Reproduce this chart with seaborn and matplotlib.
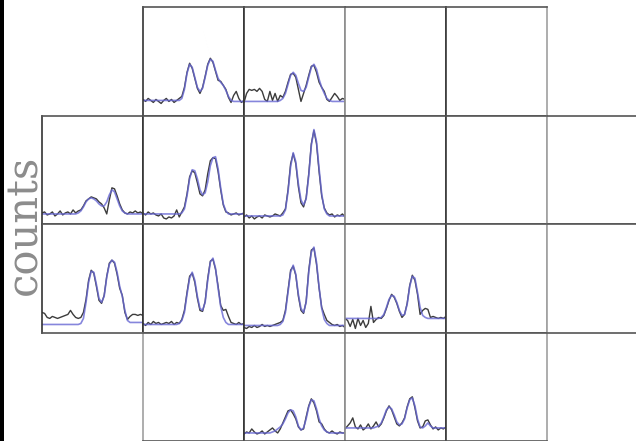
import matplotlib
matplotlib.use("Agg")
import matplotlib.pyplot as plt
from matplotlib.patches import Rectangle
import seaborn as sns

sns.set_style("white")
plt.rcParams['font.family'] = ['DejaVu Serif', 'DejaVu Sans']

# ---------------- data (counts per channel) ----------------
channels = list(range(40))

data_r0c1 = [16,14,17,15,13,16,14,12,15,17, 14,16,13,15,17,19,28,43,52,47,
             37,27,22,28,39,51,57,53,44,35, 34,30,26,18,13,20,24,17,13,15]
fit_r0c1 = [15,15,15,15,15,15,15,15,15,15, 15,15,15,15,15,17,26,42,51,48,
            38,28,24,27,38,50,56,54,45,37, 33,30,25,19,15,14,14,14,14,14]

data_r0c2 = [13,22,26,25,26,24,27,24,16,14, 24,15,22,14,20,18,24,33,41,42,
             38,26,14,22,30,40,49,50,43,33, 28,24,16,14,18,22,19,15,17,16]
fit_r0c2 = [14,14,14,14,14,14,14,14,14,14, 14,14,14,14,15,17,22,31,40,43,
            40,32,25,24,28,38,48,51,46,36, 28,22,17,15,14,14,14,14,14,14]

data_r1c0 = [11,12,9,10,12,8,10,13,9,11, 12,10,14,11,13,14,18,23,25,27,
             26,25,22,20,16,10,24,36,35,28, 20,14,11,10,12,11,13,11,12,10]
fit_r1c0 = [10,10,10,10,10,10,10,10,10,10, 10,10,10,10,11,13,17,22,25,26,
            25,23,20,18,18,22,29,34,32,25, 18,13,11,10,10,10,10,10,10,10]

data_r1c1 = [11,9,12,10,11,9,8,10,6,5, 7,6,8,14,7,12,17,30,47,53,
             51,41,30,28,34,50,63,66,65,52, 34,19,12,11,9,10,11,9,10,11]
fit_r1c1 = [10,10,10,10,10,10,10,10,10,10, 10,10,10,10,10,11,15,28,45,54,
            53,45,34,29,31,42,58,66,67,55, 36,20,13,10,10,10,10,10,10,10]

data_r1c2 = [7,9,6,8,5,7,8,6,9,8, 7,8,10,9,8,11,15,34,60,70,
             60,37,21,17,26,50,80,93,80,52, 28,16,11,9,10,7,9,8,10,7]
fit_r1c2 = [8,8,8,8,8,8,8,8,8,8, 8,8,8,8,8,9,14,32,57,71,
            62,40,24,19,25,48,78,94,82,55, 30,15,10,8,8,8,8,8,8,8]

data_r2c0 = [20,19,15,14,16,15,14,15,16,17, 18,22,18,15,14,15,20,33,52,62,
             59,46,32,29,37,56,69,72,69,58, 44,37,20,13,16,18,18,17,18,17]
fit_r2c0 = [8,8,8,8,8,8,8,8,8,8, 8,8,8,8,8,9,14,30,50,61,
            60,48,34,30,36,55,68,72,70,60, 46,36,22,12,10,10,10,10,10,10]

data_r2c1 = [9,7,10,8,11,9,10,8,9,10, 9,11,8,10,9,13,22,40,56,59,
             50,34,22,21,31,54,71,73,63,46, 27,22,23,16,10,9,8,10,8,9]
fit_r2c1 = [8,8,8,8,8,8,8,8,8,8, 8,8,8,8,9,12,20,38,54,60,
            52,36,24,22,30,52,70,74,64,44, 26,15,10,8,8,8,8,8,8,8]

data_r2c2 = [5,4,6,5,7,5,6,8,6,7, 6,7,8,9,10,12,22,42,62,66,
             57,36,22,19,31,62,82,84,68,44, 25,18,12,10,8,7,8,6,7,5]
fit_r2c2 = [7,7,7,7,7,7,7,7,7,7, 7,7,7,7,8,11,20,40,60,67,
            58,38,24,20,30,60,80,85,70,45, 24,13,9,7,7,7,7,7,7,7]

data_r2c3 = [14,12,6,13,4,14,7,12,5,9, 26,10,13,15,14,17,24,32,38,35,
             29,21,15,18,29,47,57,52,38,18, 22,24,23,15,16,15,14,15,14,16]
fit_r2c3 = [14,14,14,14,14,14,14,14,14,14, 14,14,14,14,15,18,25,33,37,36,
            30,22,17,18,28,46,56,54,40,25, 17,15,14,14,14,14,14,14,14,14]

data_r3c2 = [7,9,8,12,9,7,8,10,7,9, 11,13,10,8,12,18,24,30,31,27,
             22,14,11,12,24,35,42,38,30,19, 17,12,9,8,10,8,7,9,8,8]
fit_r3c2 = [8,8,8,8,8,8,8,8,8,8, 8,9,10,12,14,17,22,28,31,30,
            24,15,11,13,22,34,41,40,32,22, 15,11,9,8,8,8,8,8,8,8]

data_r3c3 = [12,15,18,23,14,12,16,11,13,17, 12,15,19,14,17,23,30,35,31,24,
             17,15,18,23,34,42,44,33,20,13, 14,20,21,16,12,14,11,13,12,14]
fit_r3c3 = [13,13,13,13,13,13,13,13,13,13, 13,13,14,15,18,24,31,34,32,26,
            19,16,17,22,33,41,43,35,22,14, 13,15,18,15,13,13,13,13,13,13]

spectra = {
    (0, 1): (data_r0c1, fit_r0c1), (0, 2): (data_r0c2, fit_r0c2),
    (1, 0): (data_r1c0, fit_r1c0), (1, 1): (data_r1c1, fit_r1c1), (1, 2): (data_r1c2, fit_r1c2),
    (2, 0): (data_r2c0, fit_r2c0), (2, 1): (data_r2c1, fit_r2c1), (2, 2): (data_r2c2, fit_r2c2),
    (2, 3): (data_r2c3, fit_r2c3),
    (3, 2): (data_r3c2, fit_r3c2), (3, 3): (data_r3c3, fit_r3c3),
}

# grid cells that exist (row -> columns)
row_cells = {0: [1, 2, 3, 4], 1: [0, 1, 2, 3, 4, 5], 2: [0, 1, 2, 3, 4, 5], 3: [1, 2, 3, 4]}

# ---------------- layout ----------------
W, H = 636, 441
fig = plt.figure(figsize=(W / 100, H / 100), dpi=100)
fig.patch.set_facecolor('white')

X0, Y0, CW, CH = 42, 7, 101, 108.5
vcol = {0: '#333333', 1: '#333333', 2: '#333333', 3: '#8c8c8c', 4: '#3a3a3a', 5: '#a0a0a0', 6: '#a0a0a0'}
hcol = '#555555'

for r, cols in row_cells.items():
    for c in cols:
        left = (X0 + c * CW) / W
        bottom = 1 - (Y0 + (r + 1) * CH) / H
        ax = fig.add_axes([left, bottom, CW / W, CH / H])
        ax.set_facecolor('white')
        if (r, c) in spectra:
            d, f = spectra[(r, c)]
            sns.lineplot(x=channels, y=d, ax=ax, color='#3c3c3c', lw=1.0)
            sns.lineplot(x=channels, y=f, ax=ax, color='#6868d4', lw=1.2, alpha=0.8)
        ax.set_xlim(0, 39)
        ax.set_ylim(0, 108)
        ax.set_xticks([])
        ax.set_yticks([])
        ax.set_xlabel('')
        ax.set_ylabel('')
        for s in ax.spines.values():
            s.set_visible(True)
            s.set_linewidth(1.2)
        ax.spines['left'].set_color('#a0a0a0' if (r, c) == (3, 1) else vcol[c])
        ax.spines['right'].set_color(vcol[c + 1])
        ax.spines['top'].set_color(hcol)
        ax.spines['bottom'].set_color(hcol)

# left black bar and y label
fig.add_artist(Rectangle((0, 0), 4 / W, 1, transform=fig.transFigure,
                         facecolor='black', edgecolor='none'))
fig.text(24 / W, 1 - 225 / H, 'counts', rotation=90, ha='center', va='center',
         fontsize=30, color='#8c8c8c', family=['DejaVu Serif', 'DejaVu Sans'])

fig.savefig('out.png', dpi=100, facecolor='white')
